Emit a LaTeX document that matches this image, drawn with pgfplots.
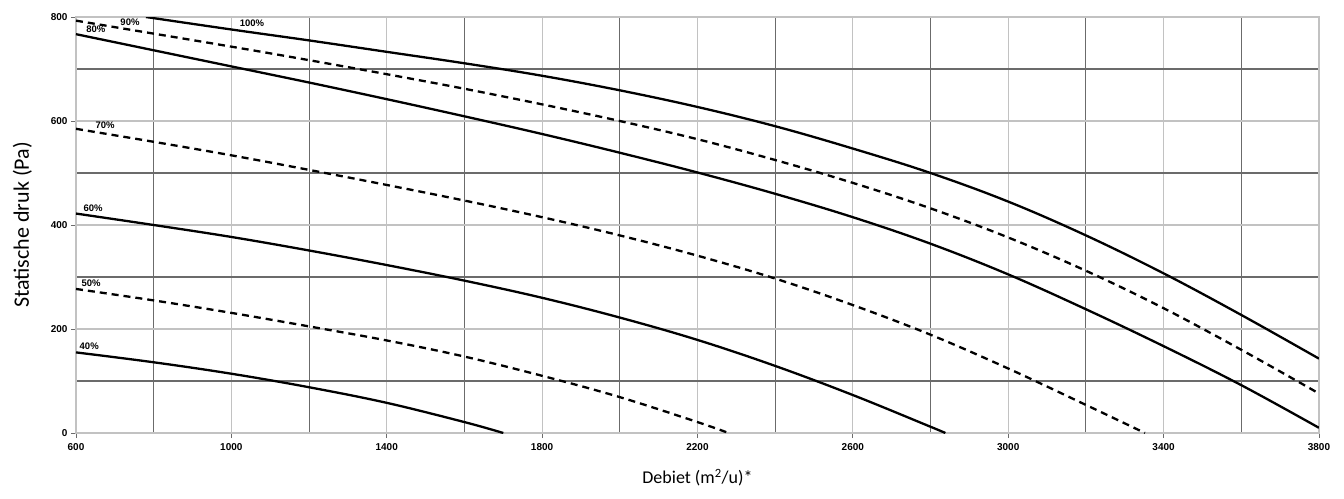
\documentclass[border=0pt]{standalone}
\usepackage{fontspec}
\setmainfont{Carlito}
\newfontfamily\arialf{Liberation Sans}
\usepackage{pgfplots}
\pgfplotsset{compat=1.18}

\definecolor{gridlight}{gray}{0.76}
\definecolor{griddark}{gray}{0.42}

\pgfplotsset{
  curve/.style={black, line width=2.3pt, smooth, tension=0.6, mark=none},
  dcurve/.style={curve, dash pattern=on 7pt off 5pt},
}

\begin{document}
\begin{tikzpicture}
\begin{axis}[
  scale only axis,
  width=1243pt, height=416pt,
  xmin=600, xmax=3800, ymin=0, ymax=800,
  xtick={600,1000,...,3800},
  minor xtick={800,1200,...,3600},
  ytick={0,200,...,800},
  minor ytick={100,300,500,700},
  grid=both,
  major grid style={gridlight, line width=1.2pt},
  minor grid style={griddark, line width=1.1pt},
  axis line style={gridlight, line width=1.2pt},
  tick style={griddark, line width=0.8pt},
  major tick length=5pt, minor tick length=0pt,
  tick align=outside,
  xtick pos=bottom, ytick pos=left,
  /pgf/number format/assume math mode=true,
  /pgf/number format/1000 sep={},
  tick label style={font=\arialf\bfseries\fontsize{10}{12}\selectfont},
  xticklabel style={yshift=-2pt},
  xlabel={Debiet (m\textsuperscript{2}/u)*},
  ylabel={Statische druk (Pa)},
  xlabel style={font=\fontsize{18}{21}\selectfont, yshift=-12pt},
  ylabel style={font=\fontsize{22}{25}\selectfont, yshift=12pt},
  clip=true,
]
% 100%
\addplot[curve] coordinates {(780,800)(1000,776)(1200,755)(1400,733)(1600,711)(1800,687)(2000,659)(2200,627)(2400,590)(2600,547)(2800,500)(3000,445)(3200,380)(3400,307)(3600,227)(3800,143)};
% 90%
\addplot[dcurve] coordinates {(600,793)(800,768)(1000,743)(1200,717)(1400,690)(1600,662)(1800,632)(2000,600)(2200,565)(2400,525)(2600,481)(2800,432)(3000,376)(3200,312)(3400,240)(3600,160)(3800,76)};
% 80%
\addplot[curve] coordinates {(600,767)(800,736)(1000,705)(1200,674)(1400,642)(1600,609)(1800,575)(2000,539)(2200,501)(2400,460)(2600,415)(2800,364)(3000,305)(3200,238)(3400,167)(3600,92)(3800,10)};
% 70%
\addplot[dcurve] coordinates {(600,585)(800,560)(1000,534)(1200,506)(1400,477)(1600,447)(1800,415)(2000,380)(2200,341)(2400,297)(2600,246)(2800,189)(3000,124)(3200,54)(3352,0)};
% 60%
\addplot[curve] coordinates {(600,422)(800,400)(1000,377)(1200,351)(1400,323)(1600,293)(1800,260)(2000,222)(2200,179)(2400,129)(2600,73)(2800,12)(2838,0)};
% 50%
\addplot[dcurve] coordinates {(600,277)(800,255)(1000,231)(1200,205)(1400,178)(1600,147)(1800,110)(2000,69)(2200,21)(2280,0)};
% 40%
\addplot[curve] coordinates {(600,155)(800,136)(1000,114)(1200,88)(1400,58)(1600,21)(1700,0)};

\begin{scope}[every node/.style={font=\arialf\bfseries\fontsize{9.5}{11}\selectfont, inner sep=0pt}]
\node at (axis cs:1053,788) {100\%};
\node at (axis cs:739,790) {90\%};
\node at (axis cs:651,777) {80\%};
\node at (axis cs:675,592) {70\%};
\node at (axis cs:644,433) {60\%};
\node at (axis cs:639,288) {50\%};
\node at (axis cs:634,166) {40\%};
\end{scope}
\end{axis}
\path (-76pt,-65pt) (1268pt,433pt);
\end{tikzpicture}
\end{document}
